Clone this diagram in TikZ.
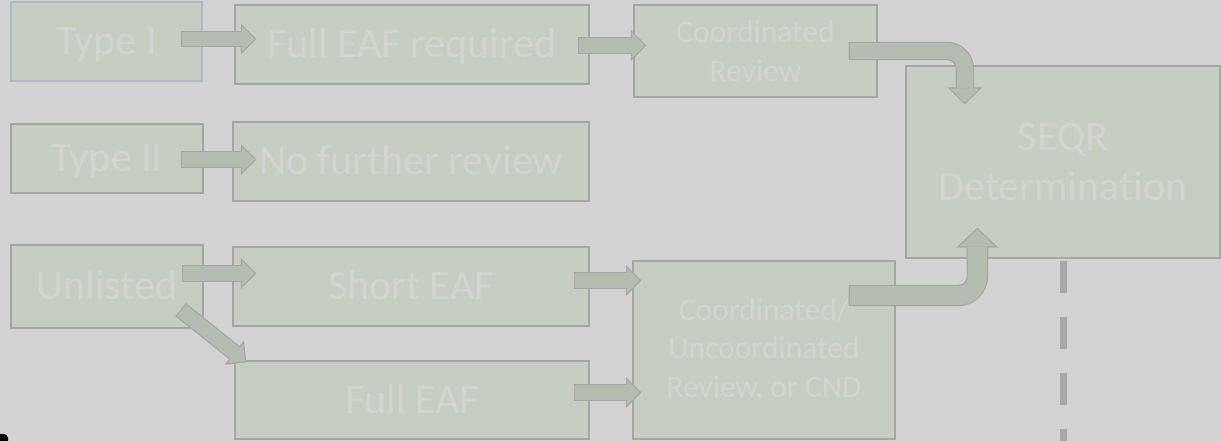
\documentclass[tikz,border=0pt]{standalone}
\usepackage{fontspec}
\setmainfont{Carlito}[Ligatures=NoCommon]
\usetikzlibrary{arrows.meta}

\definecolor{bggray}{HTML}{D3D3D3}
\definecolor{boxgreen}{HTML}{C6CEC2}
\definecolor{edgegray}{HTML}{A6A6A6}
\definecolor{bluegray}{HTML}{B2B9C6}
\definecolor{arrowgreen}{HTML}{B5BDB1}
\definecolor{textgray}{HTML}{D1D4CF}
\definecolor{dashgray}{HTML}{A8A8A8}

\newcommand\bigfont{\fontsize{42}{50}\selectfont}
\newcommand\smallfont{\fontsize{31.5}{38.5}\selectfont}

% block arrow = grey outline pass, then green fill pass
\newcommand\blockarrow[3]{%
  \draw[#1] #3;
  \draw[#2] #3;}

\tikzset{
  stepbox/.style={draw=edgegray, fill=boxgreen, line width=1.3pt, inner sep=0pt,
    align=center, text=textgray, font=\bigfont},
  oneline/.style={text height=27pt, text depth=0pt},
  arrout/.style={draw=edgegray, line width=16.9pt,
    -{Triangle[length=15.5pt,width=31pt,line width=0pt]}},
  arrin/.style={draw=arrowgreen, line width=14.5pt,
    -{Triangle[length=12.6pt,width=25.2pt,line width=0pt]}, shorten >=1.7pt, shorten <=1.2pt},
  bendout/.style={draw=edgegray, line width=18.4pt, rounded corners=18pt,
    -{Triangle[length=17pt,width=35pt,line width=0pt]}},
  bendin/.style={draw=arrowgreen, line width=16pt, rounded corners=18pt,
    -{Triangle[length=14.1pt,width=29.1pt,line width=0pt]}, shorten >=1.7pt, shorten <=1.2pt},
  bigbendout/.style={draw=edgegray, line width=21.4pt, rounded corners=19pt,
    -{Triangle[length=20pt,width=42pt,line width=0pt]}},
  bigbendin/.style={draw=arrowgreen, line width=19pt, rounded corners=19pt,
    -{Triangle[length=17.1pt,width=36pt,line width=0pt]}, shorten >=1.7pt, shorten <=1.2pt},
  divider/.style={draw=dashgray, line width=7pt, dash pattern=on 32pt off 24pt},
}

\begin{document}
\begin{tikzpicture}[x=1pt, y=1pt]
    \fill[bggray] (0,0) rectangle (1221,441);
    \useasboundingbox (0,0) rectangle (1221,441);
    \fill[black] (0,0) -- (0,7) -- (4,7) to[out=0,in=90] (8,3) -- (8,0) -- cycle;

    \begin{scope}[every node/.style={stepbox}]
        \node[oneline, draw=bluegray, minimum width=191pt, minimum height=79pt] (typeone) at (106.5,399.5) {Type I};
        \node[oneline, minimum width=354pt, minimum height=79pt] (fullreq) at (412,396.5) {Full EAF required};
        \node[font=\smallfont, minimum width=243pt, minimum height=92pt] (coordrev) at (755.5,390) {Coordinated\\Review};
        \node[minimum width=314pt, minimum height=192pt] (seqr) at (1063,279) {SEQR\\Determination};
        \node[oneline, minimum width=192pt, minimum height=69pt] (typetwo) at (107,282.5) {Type II};
        \node[oneline, minimum width=356pt, minimum height=79pt] (nofurther) at (411,279.5) {No further review};
        \node[oneline, minimum width=192pt, minimum height=83pt] (unlisted) at (107,154.5) {Unlisted};
        \node[oneline, minimum width=356pt, minimum height=79pt] (shorteaf) at (411,154.5) {Short EAF};
        \node[oneline, minimum width=354pt, minimum height=78pt] (fulleaf) at (412,41) {Full EAF};
        \node[font=\smallfont, minimum width=262pt, minimum height=178pt] (mixrev) at (764,91) {Coordinated/\\Uncoordinated\\Review, or CND};
    \end{scope}

    \coordinate (dashend) at (1063.5,0);
    \draw[divider] ([xshift=0.5pt,yshift=-2pt]seqr.south) -- (dashend);

    \blockarrow{arrout}{arrin}{([shift={(-22,2.5)}]typeone.east) -- ([shift={(22,5.5)}]fullreq.west)}
    \blockarrow{arrout}{arrin}{([shift={(-12,-1)}]fullreq.east) -- ([shift={(13,5.5)}]coordrev.west)}
    \blockarrow{arrout}{arrin}{([shift={(-23,-1)}]typetwo.east) -- ([shift={(24,2)}]nofurther.west)}
    \blockarrow{arrout}{arrin}{([shift={(-22,13)}]unlisted.east) -- ([shift={(24,13)}]shorteaf.west)}
    \blockarrow{arrout}{arrin}{([shift={(-23,19)}]unlisted.south east) -- ([shift={(12,-2)}]fulleaf.north west)}
    \blockarrow{arrout}{arrin}{([shift={(-16,6)}]shorteaf.east) -- ([shift={(9,69.5)}]mixrev.west)}
    \blockarrow{arrout}{arrin}{([shift={(-16,7.5)}]fulleaf.east) -- ([shift={(9,-42.5)}]mixrev.west)}
    \blockarrow{bendout}{bendin}{([xshift=-29pt]coordrev.east) -| ([shift={(59.5,-39)}]seqr.north west)}
    \blockarrow{bigbendout}{bigbendin}{([shift={(-47,54.5)}]mixrev.east) -| ([shift={(72,31)}]seqr.south west)}
\end{tikzpicture}
\end{document}
